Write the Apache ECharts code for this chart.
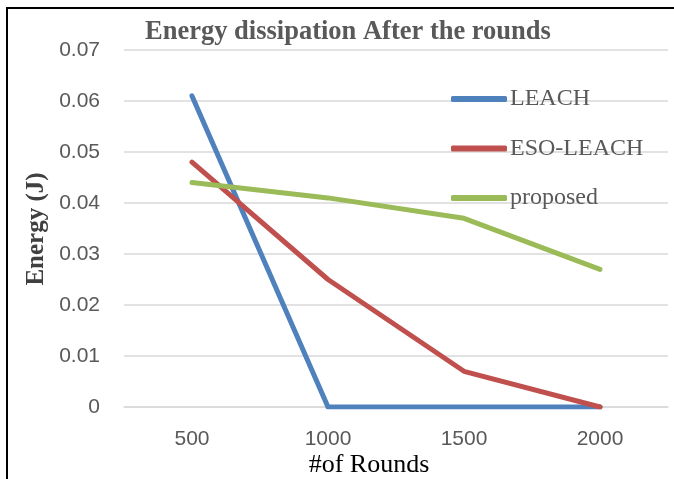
<!DOCTYPE html>
<html>
<head>
<meta charset="utf-8">
<script src="https://cdn.jsdelivr.net/npm/echarts@6/dist/echarts.min.js"></script>
<style>
  html, body { margin: 0; padding: 0; background: #fff; }
  #chart { width: 674px; height: 479px; }
</style>
</head>
<body>
<div id="chart"></div>
<script>
// Rounds on the x axis, energy remaining per protocol
const rounds = ['500', '1000', '1500', '2000'];
const leach = [0.061, 0, 0, 0];
const esoLeach = [0.048, 0.025, 0.007, 0];
const proposed = [0.044, 0.041, 0.037, 0.027];
const yTicks = { min: 0, max: 0.07, interval: 0.01 };

const serif = '"Liberation Serif", "Times New Roman", serif';
const sans = '"Liberation Sans", Arial, sans-serif';
const grey = '#595959';

const chart = echarts.init(document.getElementById('chart'), null, { renderer: 'canvas' });

function lineSeries(name, data, color) {
  return {
    name, type: 'line', data,
    symbol: 'none',
    lineStyle: { color, width: 5, cap: 'round', join: 'round' },
    itemStyle: { color },
    animation: false
  };
}

chart.setOption({
  animation: false,
  grid: { left: 124, right: 6, top: 50, bottom: 72 },
  title: {
    text: 'Energy dissipation After the rounds',
    left: 145, top: 19, padding: 0,
    textStyle: { fontFamily: serif, fontWeight: 'bold', fontSize: 26.5, color: grey }
  },
  legend: {
    orient: 'vertical',
    left: 451, top: 87, padding: 0,
    itemWidth: 56, itemHeight: 6, itemGap: 25.5,
    icon: 'roundRect',
    textStyle: { fontFamily: serif, fontSize: 24, color: grey, padding: [0, 0, 0, -2] },
    data: ['LEACH', 'ESO-LEACH', 'proposed']
  },
  xAxis: {
    type: 'category',
    data: rounds,
    boundaryGap: true,
    axisLine: { show: true, lineStyle: { color: '#d9d9d9', width: 1.5 } },
    axisTick: { show: false },
    axisLabel: { fontFamily: sans, fontSize: 21, color: grey, margin: 22 }
  },
  yAxis: {
    type: 'value',
    min: yTicks.min, max: yTicks.max, interval: yTicks.interval,
    axisLine: { show: false },
    axisTick: { show: false },
    splitLine: { lineStyle: { color: '#d9d9d9', width: 1.5 } },
    axisLabel: {
      fontFamily: sans, fontSize: 21, color: grey, margin: 24,
      formatter: v => v === 0 ? '0' : v.toFixed(2)
    }
  },
  series: [
    lineSeries('LEACH', leach, '#4f81bd'),
    lineSeries('ESO-LEACH', esoLeach, '#c0504d'),
    lineSeries('proposed', proposed, '#9bbb59')
  ],
  graphic: [
    // frame edges along the top and the left side
    { type: 'line', shape: { x1: 6, y1: 8, x2: 674, y2: 8 }, style: { stroke: '#000', lineWidth: 2 } },
    { type: 'line', shape: { x1: 7, y1: 8, x2: 7, y2: 479 }, style: { stroke: '#000', lineWidth: 2 } },
    {
      type: 'text', x: 369, y: 465,
      style: { text: '#of Rounds', textAlign: 'center', textVerticalAlign: 'middle',
        fontFamily: serif, fontSize: 26, fill: '#000' }
    },
    {
      type: 'text', x: 37, y: 229, rotation: Math.PI / 2,
      style: { text: 'Energy (J)', textAlign: 'center', textVerticalAlign: 'middle',
        fontFamily: serif, fontWeight: 'bold', fontSize: 25, fill: '#404040' }
    }
  ]
});
</script>
</body>
</html>
